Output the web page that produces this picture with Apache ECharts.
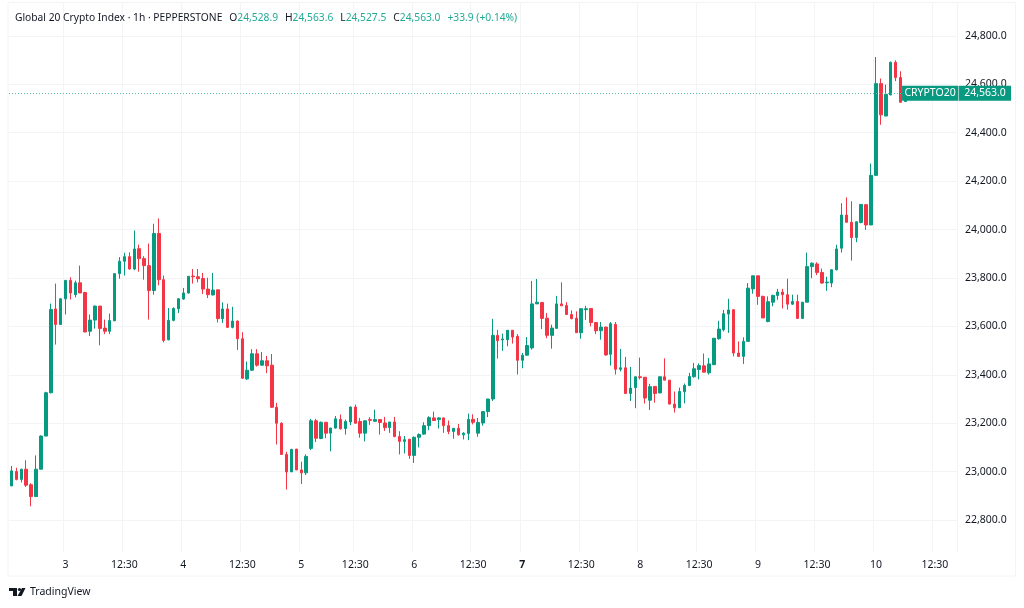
<!DOCTYPE html>
<html style="height: 100%">
<head>
<meta charset="utf-8">
<script type="text/javascript" src="https://cdn.jsdelivr.net/npm/echarts@6/dist/echarts.min.js"></script>
</head>
<body style="height: 100%; margin: 0; background: #fff">
<div id="container" style="width: 1024px; height: 608px"></div>
<script type="text/javascript">
var FONT = '"Noto Sans", sans-serif';
var UP = '#089981';
var DOWN = '#F23645';

var opens = [
22941,23001,22968,23010,22946,22897,23010,23147,23326,23672,
23608,23714,23790,23731,23780,23740,23580,23626,23684,23593,
23580,23623,23818,23869,23888,23837,23921,23880,23851,23748,
23984,23793,23545,23625,23673,23713,23738,23808,23805,23798,
23754,23730,23751,23632,23672,23596,23622,23549,23383,23419,
23487,23440,23458,23440,23266,23200,23071,22999,23093,23007,
22995,23096,23210,23137,23204,23159,23180,23216,23178,23205,
23267,23207,23159,23215,23208,23215,23201,23182,23205,23145,
23125,23134,23067,23142,23155,23190,23222,23215,23222,23190,
23166,23179,23152,23158,23216,23159,23201,23248,23300,23563,
23544,23545,23584,23559,23460,23481,23511,23693,23699,23634,
23563,23592,23693,23686,23649,23634,23574,23669,23674,23616,
23582,23597,23485,23608,23423,23429,23323,23347,23392,23390,
23295,23352,23325,23392,23378,23279,23264,23330,23356,23392,
23422,23437,23408,23442,23549,23586,23651,23669,23490,23476,
23538,23755,23809,23724,23620,23700,23728,23742,23731,23692,
23703,23633,23700,23847,23858,23823,23780,23779,23834,23923,
24060,24030,23967,24029,24103,24019,24224,24603,24469,24556,
24691,24628,24528.9];

var closes = [
23003,22968,23010,22944,22897,23010,23147,23326,23670,23608,
23714,23790,23738,23780,23738,23577,23626,23684,23591,23580,
23624,23818,23869,23888,23837,23920,23880,23851,23748,23984,
23793,23542,23625,23674,23714,23738,23807,23805,23797,23754,
23731,23750,23632,23672,23596,23622,23549,23386,23419,23487,
23440,23458,23437,23266,23200,23071,22999,23092,23007,22995,
23063,23210,23138,23204,23159,23180,23218,23177,23207,23267,
23200,23159,23210,23212,23215,23203,23182,23205,23145,23125,
23132,23067,23142,23153,23190,23223,23211,23222,23190,23166,
23179,23152,23159,23216,23204,23203,23248,23300,23563,23541,
23548,23584,23556,23460,23481,23521,23693,23700,23633,23563,
23593,23693,23685,23649,23632,23574,23673,23673,23616,23582,
23597,23482,23611,23423,23429,23323,23345,23392,23389,23304,
23351,23323,23392,23378,23279,23264,23331,23356,23393,23425,
23438,23411,23445,23551,23589,23652,23668,23490,23476,23538,
23758,23809,23724,23635,23702,23728,23742,23731,23692,23703,
23633,23700,23847,23861,23823,23779,23783,23834,23920,24060,
24030,23967,24032,24104,24019,24224,24603,24474,24559,24691,
24628,24526,24563.0];

var lows = [
22941,22964,22955,22937,22857,22897,23010,23147,23323,23525,
23608,23649,23711,23720,23738,23576,23560,23591,23522,23568,
23568,23623,23797,23810,23835,23832,23826,23793,23628,23731,
23770,23534,23542,23621,23655,23710,23735,23777,23782,23734,
23717,23728,23616,23614,23594,23592,23503,23383,23379,23416,
23434,23437,23407,23263,23112,23070,22926,22999,23007,22949,
22986,23089,23122,23134,23138,23084,23178,23174,23153,23192,
23199,23140,23125,23193,23207,23153,23168,23160,23142,23071,
23075,23053,23036,23100,23152,23171,23210,23178,23160,23155,
23136,23149,23133,23130,23195,23144,23190,23225,23292,23467,
23499,23518,23529,23401,23427,23479,23504,23693,23589,23551,
23508,23590,23685,23648,23629,23574,23549,23627,23600,23568,
23545,23479,23438,23401,23414,23321,23292,23262,23381,23281,
23255,23285,23325,23378,23278,23244,23263,23282,23353,23388,
23381,23410,23401,23440,23545,23579,23573,23476,23474,23445,
23538,23735,23689,23635,23617,23683,23710,23674,23669,23689,
23633,23633,23700,23799,23812,23776,23747,23762,23831,23905,
24030,23872,23948,24026,23999,24019,24221,24433,24469,24556,
24613,24523,24527.5];

var highs = [
23023,23016,23012,23047,22952,23067,23150,23330,23694,23777,
23716,23791,23803,23789,23851,23743,23649,23686,23684,23628,
23653,23818,23886,23904,23906,23996,23938,23890,23942,24024,
24046,23810,23676,23679,23717,23759,23808,23837,23837,23821,
23801,23821,23752,23699,23694,23681,23625,23576,23455,23506,
23506,23494,23478,23486,23284,23204,23082,23094,23094,23041,
23071,23218,23218,23207,23204,23181,23230,23236,23215,23269,
23277,23222,23212,23225,23256,23215,23226,23205,23226,23167,
23147,23134,23145,23158,23204,23229,23248,23225,23223,23211,
23180,23197,23163,23240,23237,23222,23248,23301,23631,23586,
23570,23584,23584,23568,23490,23556,23788,23796,23699,23655,
23607,23726,23782,23700,23666,23662,23673,23685,23675,23616,
23618,23599,23618,23618,23507,23474,23433,23392,23471,23390,
23363,23352,23392,23468,23378,23331,23347,23364,23408,23449,
23447,23488,23470,23552,23623,23668,23714,23669,23538,23555,
23779,23809,23809,23727,23724,23731,23755,23755,23797,23731,
23731,23700,23905,23865,23865,23839,23805,23836,23937,24109,
24133,24117,24034,24104,24103,24273,24713,24624,24599,24694,
24699,24654,24563.6];

// bar slot of each time label on the x axis
var tickSlots = [11,23,35,47,59,70,82,94,104,116,128,140,152,164,176,188];
var tickLabels = ['3','12:30','4','12:30','5','12:30','6','12:30','7','12:30','8','12:30','9','12:30','10','12:30'];
var boldTicks = ['7'];

// chart keeps 10 empty slots right of the last bar
var SLOTS = 193;
var categories = [];
for (var i = 0; i < SLOTS; i++) {
    var at = tickSlots.indexOf(i);
    categories.push(at >= 0 ? tickLabels[at] : '');
}

var candles = [];
for (var i = 0; i < opens.length; i++) {
    candles.push([opens[i], closes[i], lows[i], highs[i]]);
}
var lastClose = closes[closes.length - 1];

function money(v) {
    return v.toLocaleString('en-US', {minimumFractionDigits: 1, maximumFractionDigits: 1});
}
function isTick(index) {
    return tickSlots.indexOf(index) >= 0;
}

var option = {
    backgroundColor: '#ffffff',
    animation: false,
    textStyle: {fontFamily: FONT},
    title: {
        left: 15,
        top: 9,
        padding: 0,
        text: '{t|Global 20 Crypto Index · 1h · PEPPERSTONE}{g|}{t|O}{v|' + money(opens[182]) + '}{g|}{t|H}{v|' + money(highs[182]) +
              '}{g|}{t|L}{v|' + money(lows[182]) + '}{g|}{t|C}{v|' + money(lastClose) + '}{g|}{v|+33.9 (+0.14%)}',
        textStyle: {
            fontWeight: 'normal',
            rich: {
                t: {color: '#131722', fontSize: 10.25, fontWeight: 'normal', fontFamily: FONT},
                v: {color: '#22AB94', fontSize: 10.25, fontWeight: 'normal', fontFamily: FONT},
                g: {width: 7}
            }
        }
    },
    grid: {left: 9, right: 67, top: 3, bottom: 56},
    xAxis: {
        type: 'category',
        data: categories,
        boundaryGap: true,
        axisLine: {show: false},
        axisTick: {show: false},
        axisLabel: {
            interval: function (index) { return isTick(index); },
            color: '#131722',
            fontSize: 10.5,
            fontFamily: FONT,
            margin: 8,
            formatter: function (value) {
                return boldTicks.indexOf(value) >= 0 ? '{b|' + value + '}' : value;
            },
            rich: {b: {fontWeight: 'bold', fontSize: 10.5, color: '#131722', fontFamily: FONT}}
        },
        splitLine: {
            show: true,
            interval: function (index) { return isTick(index); },
            lineStyle: {color: '#f3f4f6', width: 1}
        }
    },
    yAxis: {
        type: 'value',
        position: 'right',
        min: 22668,
        max: 24936,
        splitNumber: 11,
        axisLine: {show: false},
        axisTick: {show: false},
        axisLabel: {
            showMinLabel: false,
            showMaxLabel: false,
            color: '#131722',
            fontSize: 10.5,
            fontFamily: FONT,
            margin: 8,
            padding: [2, 0, 0, 0],
            formatter: function (v) { return money(v); }
        },
        splitLine: {showMinLine: false, showMaxLine: false, lineStyle: {color: '#f3f4f6', width: 1}}
    },
    series: [{
        type: 'candlestick',
        data: candles,
        barWidth: 3,
        clip: false,
        itemStyle: {
            color: UP,
            color0: DOWN,
            borderColor: UP,
            borderColor0: DOWN,
            borderWidth: 1
        },
        markLine: {
            silent: true,
            symbol: 'none',
            label: {show: false},
            lineStyle: {color: '#5fbcaa', type: [1, 2], width: 1},
            data: [{yAxis: lastClose}]
        },
        markPoint: {
            silent: true,
            symbol: 'rect',
            symbolSize: 0,
            data: [{coord: [192, lastClose]}],
            label: {
                show: true,
                position: 'inside',
                offset: [2, 0],
                formatter: '{n|CRYPTO20}{s|}{p|' + money(lastClose) + '}',
                rich: {
                    n: {color: '#fff', backgroundColor: UP, fontSize: 10.5, fontFamily: FONT, width: 56, height: 15, lineHeight: 15, align: 'center'},
                    s: {backgroundColor: '#8fd0c3', width: 1, height: 15},
                    p: {color: '#fff', backgroundColor: UP, fontSize: 10.5, fontFamily: FONT, width: 52, height: 15, lineHeight: 15, align: 'center'}
                }
            }
        }
    }],
    graphic: [
        {type: 'rect', silent: true, z: -1, shape: {x: 8, y: 2.5, width: 1007.5, height: 573.5}, style: {fill: 'none', stroke: '#f3f4f6', lineWidth: 1}},
        {type: 'polygon', silent: true, shape: {points: [[9, 588], [17, 588], [17, 596], [13, 596], [13, 591], [9, 591]]}, style: {fill: '#131722'}},
        {type: 'circle', silent: true, shape: {cx: 19.5, cy: 589.5, r: 1.6}, style: {fill: '#131722'}},
        {type: 'polygon', silent: true, shape: {points: [[22, 588], [25.5, 588], [21.5, 596], [17.5, 596]]}, style: {fill: '#131722'}},
        {type: 'text', silent: true, style: {x: 30, y: 592, text: 'TradingView', fill: '#131722', font: '10.5px ' + FONT, textVerticalAlign: 'middle'}}
    ]
};

var myChart = echarts.init(document.getElementById('container'));
myChart.setOption(option, true);
</script>
</body>
</html>
